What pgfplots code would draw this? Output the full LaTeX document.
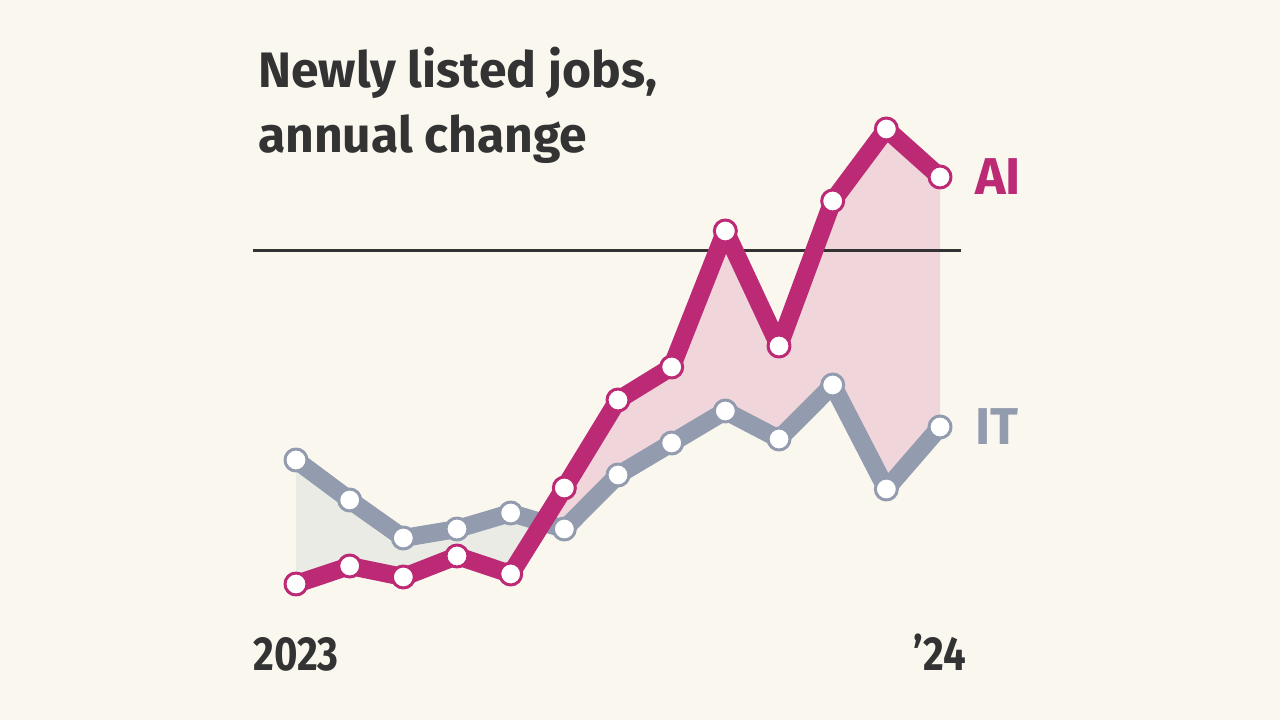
\documentclass[border=0pt]{standalone}
\usepackage{pgfplots}
\pgfplotsset{compat=1.18}
\usepgfplotslibrary{fillbetween}
\usepackage{fontspec}
\setmainfont{Fira Sans}[BoldFont={Fira Sans SemiBold}]
\newfontfamily\heavy{Fira Sans Bold}
\definecolor{bg}{HTML}{FAF7EF}
\definecolor{aic}{HTML}{BC2A76}
\definecolor{itc}{HTML}{939BAF}
\definecolor{pinkf}{HTML}{F0D6DB}
\definecolor{grayf}{HTML}{E9EBE4}
\definecolor{txt}{HTML}{333333}
\pgfplotstableread{
x ai it
0 -333 -209
1 -315 -249
2 -326 -287
3 -305 -278
4 -323 -262
5 -237 -278
6 -149 -224
7 -116 -192
8 20 -160
9 -95 -188
10 50 -134
11 122 -238
12 74 -176
}\datatab
\begin{document}
\begin{tikzpicture}[x=1bp,y=1bp]
\begin{axis}[
  at={(0,0)}, anchor=south west,
  scale only axis, width=1280bp, height=720bp,
  xmin=-5.5155, xmax=18.335, ymin=-469, ymax=251,
  hide axis, clip=false, set layers,
]
\begin{pgfonlayer}{axis background}
\fill[bg] (rel axis cs:0,0) rectangle (rel axis cs:1,1);
\end{pgfonlayer}
\addplot[draw=none, name path=it, forget plot] table[x=x, y=it] {\datatab};
\addplot[draw=none, name path=ai, forget plot] table[x=x, y=ai] {\datatab};
\addplot[forget plot] fill between[of=ai and it, split,
  every segment no 0/.style={fill=grayf},
  every segment no 1/.style={fill=pinkf}];
\draw[txt, line width=3bp] (axis cs:-0.801,0) -- (axis cs:12.391,0);
\addplot[draw=itc, /tikz/line width=18bp, line join=round, mark=*, mark size=11bp,
  mark options={fill=white, draw=itc, /tikz/line width=3bp}] table[x=x, y=it] {\datatab};
\addplot[draw=aic, /tikz/line width=18bp, line join=round, mark=*, mark size=11bp,
  mark options={fill=white, draw=aic, /tikz/line width=3bp}] table[x=x, y=ai] {\datatab};
\node[anchor=base, txt, font=\heavy\fontsize{48}{50}\selectfont, xscale=0.84] at (axis cs:0,-419) {2023};
\node[anchor=base, txt, font=\heavy\fontsize{48}{50}\selectfont, xscale=0.84] at (axis cs:12,-419) {’24};
\end{axis}
\node[anchor=base west, txt, font=\heavy\fontsize{50}{60}\selectfont, inner sep=0pt] at (258,632) {Newly listed jobs,};
\node[anchor=base west, txt, font=\heavy\fontsize{50}{60}\selectfont, inner sep=0pt] at (258,567) {annual change};
\node[anchor=base west, aic, font=\heavy\fontsize{52}{60}\selectfont, inner sep=0pt] at (975,525) {AI};
\node[anchor=base west, itc, font=\heavy\fontsize{52}{60}\selectfont, inner sep=0pt] at (975,275) {IT};
\end{tikzpicture}
\end{document}
